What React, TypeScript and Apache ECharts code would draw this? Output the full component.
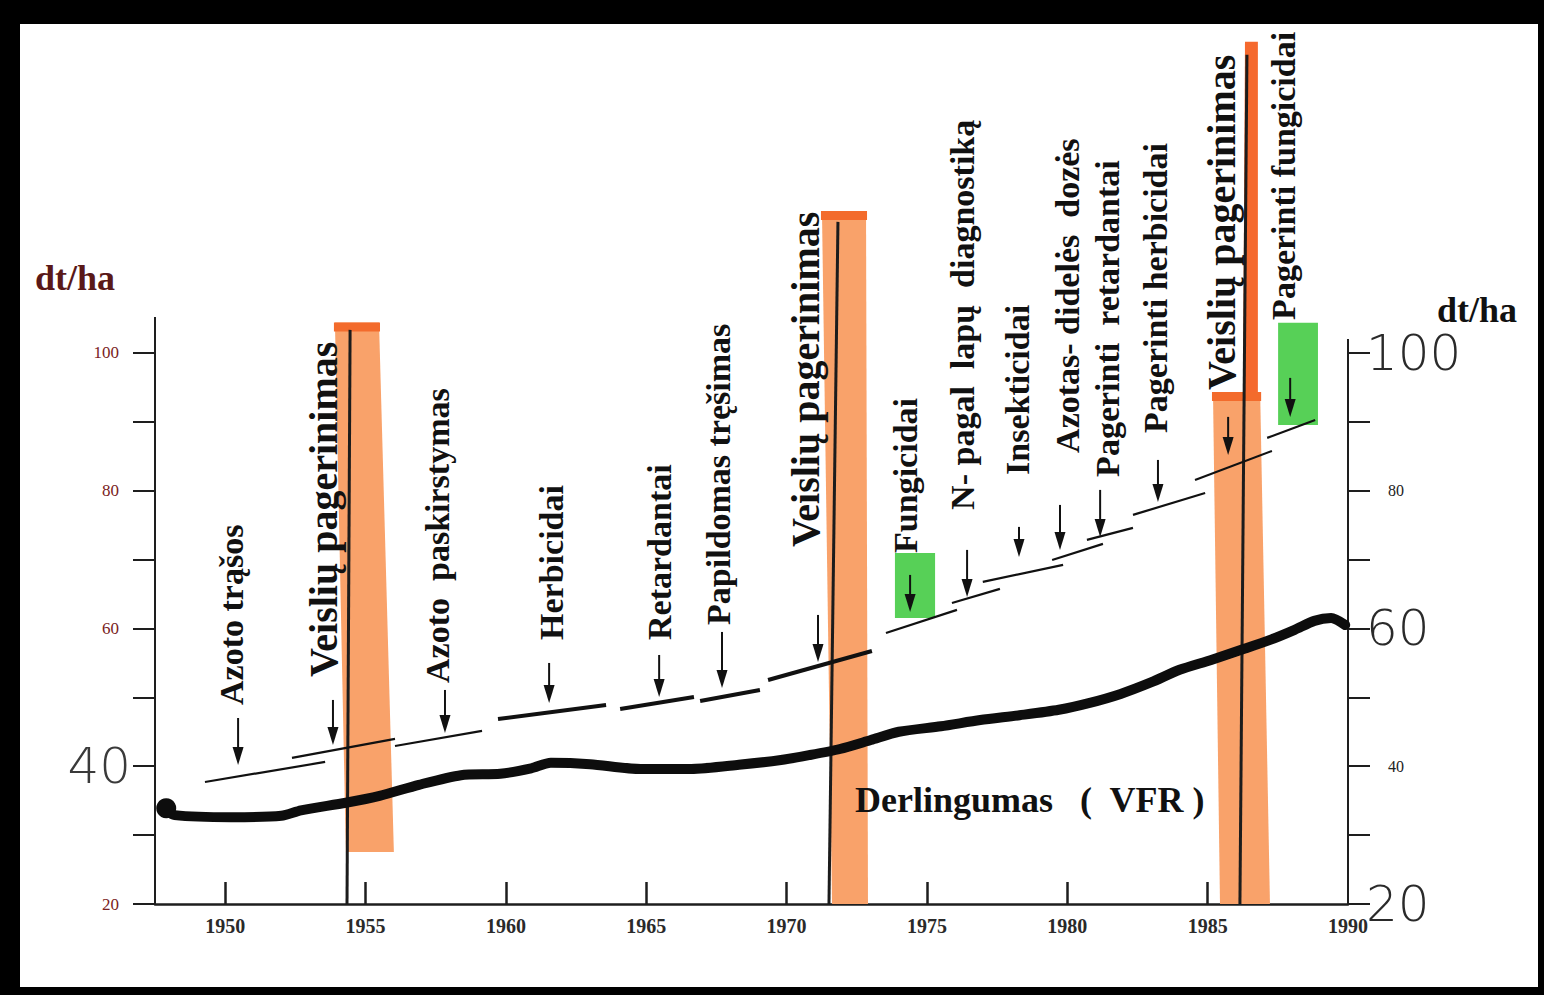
import React, { useEffect, useRef } from 'react';
import * as echarts from 'echarts';

// ---------- axes ----------
const X_MIN = 1947.5;
const X_MAX = 1990;
const Y_MIN = 20;
const Y_MAX = 146;
const yearTicks = [1950, 1955, 1960, 1965, 1970, 1975, 1980, 1985];
const yearLabels = [1950, 1955, 1960, 1965, 1970, 1975, 1980, 1985, 1990];
const yTicks = [20, 30, 40, 50, 60, 70, 80, 90, 100];
const yLabels = [20, 40, 60, 80, 100];
const handLeft = [40];
const handRight = [20, 60, 100];
const leftAxisTop = 105.2;
const rightAxisTop = 102;

// ---------- yield (Derlingumas, VFR) ----------
const yieldYears = [1947.9, 1948.2, 1950.2, 1952.0, 1952.7, 1954.3, 1955.5, 1956.9, 1958.4, 1959.8,
  1960.9, 1961.6, 1963.0, 1964.8, 1966.6, 1968.3, 1969.8, 1970.8, 1971.9, 1973.0,
  1974.0, 1975.5, 1976.9, 1978.3, 1979.7, 1980.8, 1981.9, 1983.0, 1984.0, 1985.1,
  1986.2, 1987.2, 1988.1, 1988.8, 1989.4, 1989.9];
const yieldValues = [33.6, 32.9, 32.6, 32.8, 33.6, 34.7, 35.7, 37.3, 38.7, 38.9,
  39.7, 40.5, 40.3, 39.6, 39.6, 40.2, 40.9, 41.6, 42.5, 43.8,
  45.0, 45.8, 46.7, 47.4, 48.2, 49.2, 50.5, 52.2, 54.0, 55.4,
  56.9, 58.3, 59.8, 61.1, 61.5, 60.5];

// ---------- potential yield steps [year0, value0, year1, value1] ----------
const potentialThin = [
  [1949.28, 37.71, 1953.56, 40.62],
  [1952.38, 41.2, 1956.05, 43.96],
  [1956.05, 42.94, 1959.15, 45.12],
  [1973.54, 59.35, 1976.07, 62.69],
  [1975.89, 63.7, 1977.6, 65.74],
  [1976.99, 66.75, 1979.85, 69.22],
  [1979.46, 69.94, 1981.27, 72.27],
  [1980.7, 72.85, 1982.34, 74.59],
  [1982.34, 76.48, 1984.91, 79.67],
  [1984.55, 81.56, 1987.29, 85.77],
  [1987.12, 87.66, 1988.83, 90.27],
];
const potentialThick = [
  [1959.72, 46.86, 1963.57, 48.89],
  [1964.07, 48.31, 1966.7, 50.05],
  [1966.92, 49.47, 1969.05, 51.07],
  [1969.34, 52.52, 1973.04, 56.73],
];

// ---------- arrows ----------
const arrowYears = [1950.46, 1953.84, 1957.83, 1961.54, 1965.46, 1967.7, 1971.12, 1974.4, 1976.43, 1978.28, 1979.74, 1981.17, 1983.23, 1985.73, 1987.94];
const arrowTops = [47.0, 49.62, 51.07, 54.99, 56.15, 59.49, 61.96, 67.77, 71.4, 74.74, 77.93, 80.11, 84.46, 90.71, 96.37];
const arrowTips = [40.18, 43.09, 44.83, 49.18, 50.05, 51.36, 55.14, 62.4, 64.57, 70.38, 71.4, 73.29, 78.37, 85.19, 90.71];

// ---------- highlight bars [topLeftYear, topRightYear, bottomLeftYear, bottomRightYear, topValue, bottomValue] ----------
const breedingBars = [
  [1953.91, 1955.48, 1954.3, 1956.01, 104.4, 27.55],
  [1971.26, 1972.83, 1971.62, 1972.9, 120.6, 20],
  [1985.19, 1986.87, 1985.44, 1987.22, 94.34, 20],
];
const breedingStem = [[1986.33, 1986.79, 1986.26, 1986.79, 145.15, 94.34]];
const breedingLines = [
  [1954.45, 103.34, 1954.34, 20],
  [1971.83, 119.02, 1971.51, 20],
  [1986.4, 143.27, 1986.15, 20],
];
const fungicideBoxes = [
  [1973.86, 1975.29, 1973.86, 1975.29, 70.96, 61.52],
  [1987.51, 1988.93, 1987.51, 1988.93, 104.36, 89.55],
];

// ---------- texts ----------
const measureLabels = [
  'Azoto trąšos', 'Azoto  paskirstymas', 'Herbicidai', 'Retardantai', 'Papildomas tręšimas',
  'Fungicidai', 'N- pagal  lapų  diagnostiką', 'Insekticidai', 'Azotas- didelės  dozės',
  'Pagerinti  retardantai', 'Pagerinti herbicidai', 'Pagerinti fungicidai',
];
const measureYears = [1950.24, 1957.55, 1961.64, 1965.49, 1967.56, 1974.22, 1976.25, 1978.21, 1979.99, 1981.45, 1983.13, 1987.69];
const measureValues = [48.89, 52.09, 58.33, 58.33, 60.51, 70.96, 77.21, 82.29, 85.48, 82.0, 88.38, 104.79];
const breedingLabel = 'Veislių pagerinimas';
const breedingLabelYears = [1953.49, 1970.69, 1985.51];
const breedingLabelValues = [52.96, 71.83, 94.63];
const yieldLabel = 'Derlingumas   (  VFR )';
const yieldLabelPos = [1972.44, 35.1];
const unitLabel = 'dt/ha';

const SERIF = '"Liberation Serif", "Times New Roman", serif';
const HAND = '"DejaVu Sans", sans-serif';

function polygonRenderer(fill: string, cap?: string) {
  return (params: any, api: any) => {
    const tl = api.coord([api.value(0), api.value(4)]);
    const tr = api.coord([api.value(1), api.value(4)]);
    const br = api.coord([api.value(3), api.value(5)]);
    const bl = api.coord([api.value(2), api.value(5)]);
    const children: any[] = [
      { type: 'polygon', shape: { points: [tl, tr, br, bl] }, style: { fill } },
    ];
    if (cap) {
      children.push({
        type: 'polygon',
        shape: { points: [[tl[0] - 1, tl[1]], [tr[0] + 1, tr[1]], [tr[0] + 1, tr[1] + 9], [tl[0] - 1, tl[1] + 9]] },
        style: { fill: cap },
      });
    }
    return { type: 'group', children };
  };
}

function textRenderer(labels: string[], size: number, rotate: boolean) {
  return (params: any, api: any) => {
    const p = api.coord([api.value(0), api.value(1)]);
    return {
      type: 'text',
      x: p[0],
      y: p[1],
      rotation: rotate ? Math.PI / 2 : 0,
      style: {
        text: labels[params.dataIndex],
        fontFamily: SERIF,
        fontWeight: 'bold',
        fontSize: size,
        fill: '#111',
        align: 'left',
        verticalAlign: 'middle',
      },
    };
  };
}

function buildOption(): any {
  const orange = '#f9a26a';
  const orangeCap = '#f36b2c';
  return {
    animation: false,
    backgroundColor: '#ffffff',
    grid: { left: 135, right: 190, top: 12, bottom: 83 },
    xAxis: {
      type: 'value',
      min: X_MIN,
      max: X_MAX,
      splitLine: { show: false },
      axisLine: { show: true, lineStyle: { color: '#1e1e1e', width: 2.5 } },
      axisTick: { show: true, customValues: yearTicks, inside: true, length: 22, lineStyle: { color: '#1e1e1e', width: 2.5 } },
      axisLabel: {
        customValues: yearLabels,
        formatter: (v: number) => String(v),
        margin: 12,
        fontFamily: SERIF,
        fontWeight: 'bold',
        fontSize: 20,
        color: '#2a2a2a',
      },
    },
    yAxis: [
      {
        type: 'value',
        position: 'left',
        min: Y_MIN,
        max: Y_MAX,
        splitLine: { show: false },
        axisLine: { show: false },
        axisTick: { show: true, customValues: yTicks, length: 22, lineStyle: { color: '#1e1e1e', width: 2 } },
        axisLabel: {
          customValues: yLabels,
          margin: 24,
          formatter: (v: number) => (handLeft.includes(v) ? `{hand|${v}}` : `{small|${v}}`),
          rich: {
            hand: { fontFamily: HAND, fontWeight: 200, fontSize: 50, color: '#3a3a3a' },
            small: { fontFamily: SERIF, fontSize: 17, color: '#7a2222', padding: [0, 12, 0, 0] },
          },
        },
      },
      {
        type: 'value',
        position: 'right',
        min: Y_MIN,
        max: Y_MAX,
        splitLine: { show: false },
        axisLine: { show: false },
        axisTick: { show: true, customValues: yTicks, length: 22, lineStyle: { color: '#1e1e1e', width: 2 } },
        axisLabel: {
          customValues: yLabels,
          margin: 18,
          formatter: (v: number) => (handRight.includes(v) ? `{hand|${v}}` : `{small|${v}}`),
          rich: {
            hand: { fontFamily: HAND, fontWeight: 200, fontSize: 50, color: '#2a2a2a' },
            small: { fontFamily: SERIF, fontSize: 16, color: '#222', padding: [0, 0, 0, 22] },
          },
        },
      },
    ],
    graphic: [
      { type: 'text', left: 15, top: 236, style: { text: unitLabel, font: `bold 36px ${SERIF}`, fill: '#5a1818' } },
      { type: 'text', left: 1417, top: 268, style: { text: unitLabel, font: `bold 36px ${SERIF}`, fill: '#111' } },
    ],
    series: [
      // axis lines
      { type: 'line', data: [[X_MIN, Y_MIN], [X_MIN, leftAxisTop]], symbol: 'none', clip: false, z: 1, lineStyle: { color: '#1e1e1e', width: 2 } },
      { type: 'line', data: [[X_MAX, Y_MIN], [X_MAX, rightAxisTop]], symbol: 'none', clip: false, z: 1, lineStyle: { color: '#1e1e1e', width: 2 } },
      // orange bars
      { type: 'custom', data: breedingBars, encode: { x: [0, 1], y: [4, 5] }, clip: false, z: 1, renderItem: polygonRenderer(orange, orangeCap) },
      { type: 'custom', data: breedingStem, encode: { x: [0, 1], y: [4, 5] }, clip: false, z: 1, renderItem: polygonRenderer('#f5692e') },
      // green boxes
      { type: 'custom', data: fungicideBoxes, encode: { x: [0, 1], y: [4, 5] }, clip: false, z: 1, renderItem: polygonRenderer('#57d057') },
      // vertical black lines
      {
        type: 'lines', coordinateSystem: 'cartesian2d', z: 2,
        data: breedingLines.map((l) => ({ coords: [[l[0], l[1]], [l[2], l[3]]] })),
        lineStyle: { color: '#1c1c1c', width: 3, opacity: 1 },
      },
      // potential steps
      {
        type: 'lines', coordinateSystem: 'cartesian2d', z: 3,
        data: potentialThin.map((l) => ({ coords: [[l[0], l[1]], [l[2], l[3]]] })),
        lineStyle: { color: '#111', width: 2.2, opacity: 1 },
      },
      {
        type: 'lines', coordinateSystem: 'cartesian2d', z: 3,
        data: potentialThick.map((l) => ({ coords: [[l[0], l[1]], [l[2], l[3]]] })),
        lineStyle: { color: '#111', width: 4, opacity: 1 },
      },
      // arrows
      {
        type: 'custom', z: 4, clip: false,
        data: arrowYears.map((y, i) => [y, arrowTops[i], arrowTips[i]]),
        encode: { x: 0, y: [1, 2] },
        renderItem: (params: any, api: any) => {
          const top = api.coord([api.value(0), api.value(1)]);
          const tip = api.coord([api.value(0), api.value(2)]);
          const hh = 18;
          const hw = 5.5;
          return {
            type: 'group',
            children: [
              { type: 'line', shape: { x1: top[0], y1: top[1], x2: tip[0], y2: tip[1] - hh + 2 }, style: { stroke: '#111', lineWidth: 2 } },
              { type: 'polygon', shape: { points: [[tip[0] - hw, tip[1] - hh], [tip[0] + hw, tip[1] - hh], [tip[0], tip[1]]] }, style: { fill: '#111' } },
            ],
          };
        },
      },
      // yield line
      {
        type: 'line', z: 5, symbol: 'none', smooth: 0.25,
        data: yieldYears.map((y, i) => [y, yieldValues[i]]),
        lineStyle: { color: '#0d0d0d', width: 10, cap: 'round', join: 'round' },
      },
      {
        type: 'scatter', z: 5, symbolSize: 20,
        data: [[yieldYears[0], yieldValues[0] + 0.3]],
        itemStyle: { color: '#0d0d0d', opacity: 1 },
      },
      // labels
      {
        type: 'custom', z: 6, clip: false,
        data: measureYears.map((y, i) => [y, measureValues[i]]),
        encode: { x: 0, y: 1 },
        renderItem: textRenderer(measureLabels, 34, true),
      },
      {
        type: 'custom', z: 6, clip: false,
        data: breedingLabelYears.map((y, i) => [y, breedingLabelValues[i]]),
        encode: { x: 0, y: 1 },
        renderItem: textRenderer(breedingLabelYears.map(() => breedingLabel), 40, true),
      },
      {
        type: 'custom', z: 6, clip: false,
        data: [yieldLabelPos],
        encode: { x: 0, y: 1 },
        renderItem: textRenderer([yieldLabel], 36, false),
      },
    ],
  };
}

export default function App() {
  const ref = useRef<HTMLDivElement>(null);
  useEffect(() => {
    if (!ref.current) return;
    const chart = echarts.init(ref.current, null, { renderer: 'svg' });
    chart.setOption(buildOption());
    return () => chart.dispose();
  }, []);
  return (
    <div style={{ position: 'fixed', left: 0, top: 0, width: 1544, height: 995, background: '#000' }}>
      <div ref={ref} style={{ position: 'absolute', left: 20, top: 24, width: 1518, height: 963, background: '#fff' }} />
    </div>
  );
}
